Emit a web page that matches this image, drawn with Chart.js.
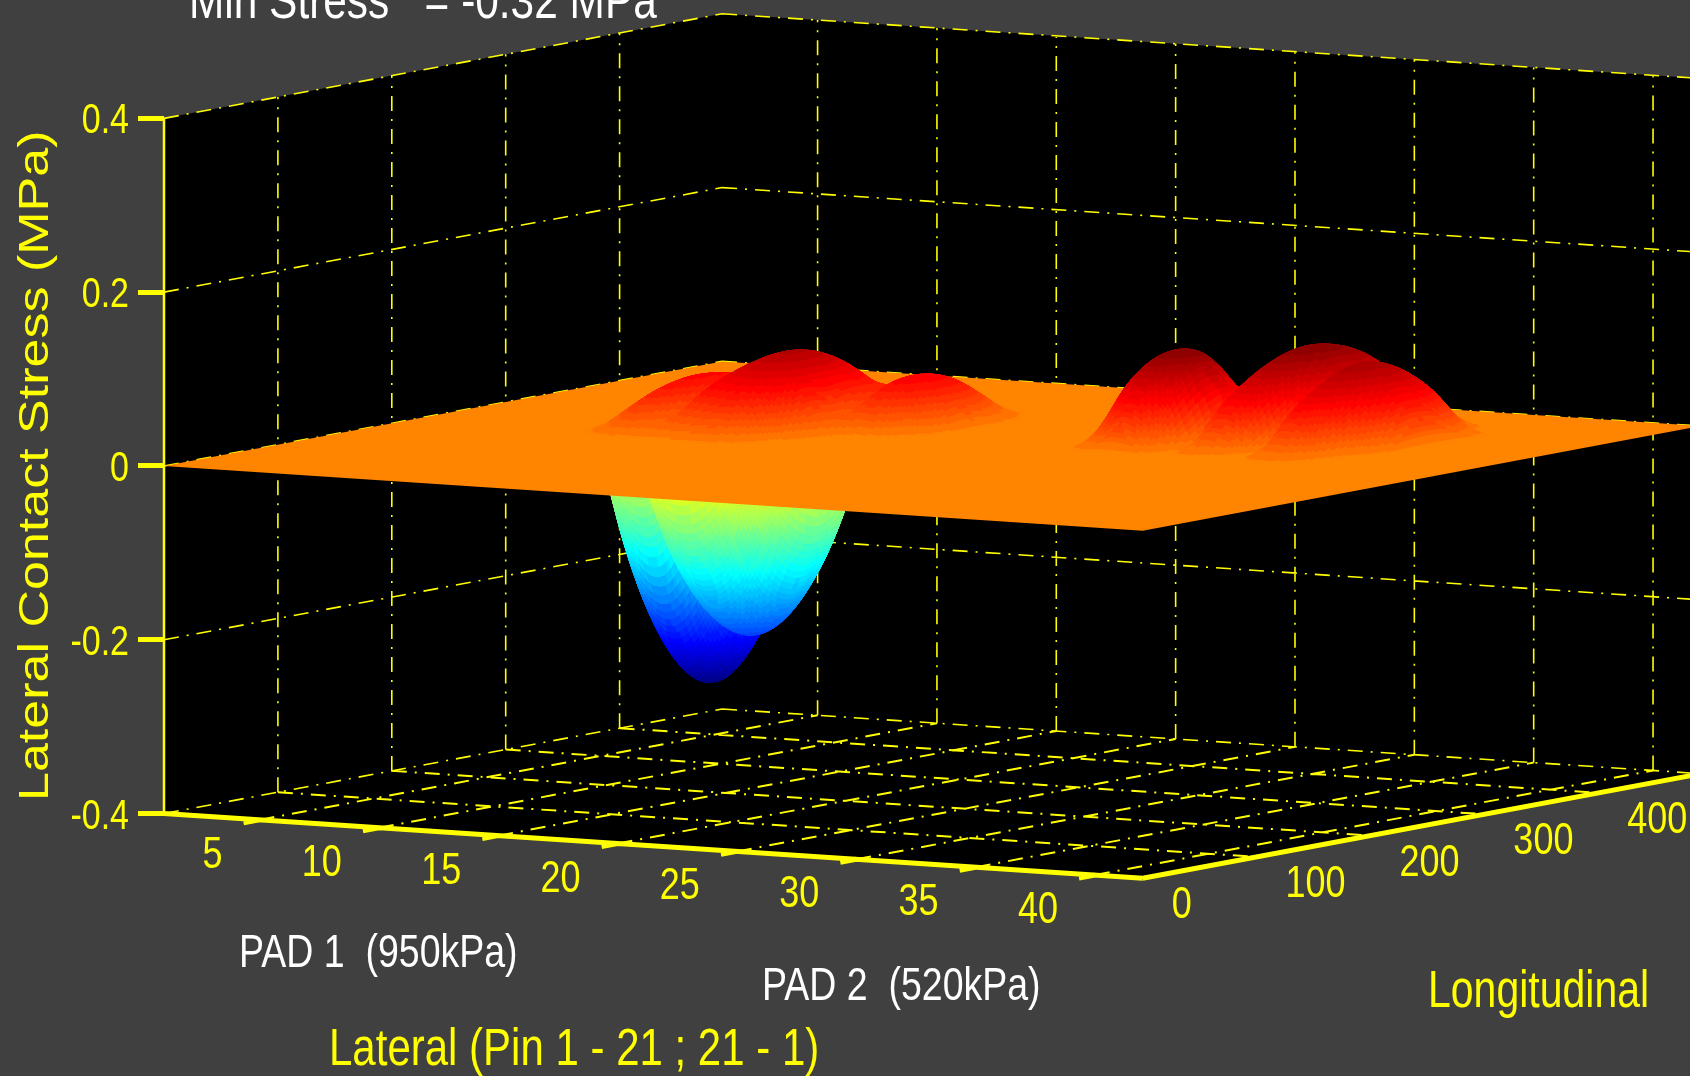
<!DOCTYPE html>
<html>
<head>
<meta charset="utf-8">
<title>Lateral contact stress</title>
<script src="https://cdn.jsdelivr.net/npm/chart.js@4/dist/chart.umd.min.js"></script>
<style>
  html, body { margin: 0; background: #404040; overflow: hidden; }
  canvas { display: block; }
</style>
</head>
<body>
<canvas id="stressChart" width="1690" height="1076"></canvas>
<script>
// axis ticks
const stressTicks = [-0.4, -0.2, 0, 0.2, 0.4];
const lateralTicks = [5, 10, 15, 20, 25, 30, 35, 40];
const longitudinalTicks = [0, 100, 200, 300, 400];
const lateralRange = [1, 42];
const longitudinalRange = [0, 490];
const colorRange = [-0.32, 0.107];

// pad 2 bumps, one row per longitudinal station
const pad2Pins = [25, 26, 27, 28, 29, 30, 31, 32, 33, 34, 35, 36, 37];
const pad2Stations = [260, 280, 300, 320, 340, 360, 380, 400, 420, 440, 460];
const pad2Stress = [
  [0, 0, 0, 0, 0, 0, 0, 0, 0, 0, 0, 0, 0],
  [0, 0, 0.026, 0.047, 0.03, 0.002, 0.012, 0.008, 0, 0.015, 0.012, 0, 0],
  [0, 0.01, 0.066, 0.087, 0.07, 0.01, 0.05, 0.048, 0.006, 0.05, 0.04, 0.004, 0],
  [0, 0.034, 0.082, 0.103, 0.09, 0.03, 0.072, 0.072, 0.03, 0.07, 0.06, 0.02, 0],
  [0, 0.027, 0.075, 0.096, 0.082, 0.045, 0.088, 0.088, 0.055, 0.084, 0.072, 0.038, 0],
  [0, 0, 0.045, 0.066, 0.038, 0.065, 0.098, 0.097, 0.068, 0.09, 0.078, 0.046, 0],
  [0, 0, 0, 0.012, 0.034, 0.079, 0.1, 0.098, 0.072, 0.084, 0.072, 0.04, 0],
  [0, 0, 0, 0, 0.03, 0.071, 0.091, 0.09, 0.066, 0.064, 0.052, 0.02, 0],
  [0, 0, 0, 0, 0.013, 0.051, 0.07, 0.07, 0.048, 0.03, 0.018, 0, 0],
  [0, 0, 0, 0, 0, 0.021, 0.039, 0.039, 0.021, 0, 0, 0, 0],
  [0, 0, 0, 0, 0, 0, 0, 0, 0, 0, 0, 0, 0],
];

// pad 1 bumps
const pad1Pins = [7, 8, 9, 10, 11, 12, 13, 14, 15, 16, 17, 18, 19, 20];
const pad1Stations = [200, 220, 240, 260, 280, 300, 320, 340, 360, 380, 400];
const pad1Stress = [
  [0, 0, 0, 0, 0, 0, 0, 0, 0, 0, 0, 0, 0, 0],
  [0, 0, 0.006, 0.02, 0.012, 0.018, 0.023, 0.026, 0.014, 0, 0, 0, 0, 0],
  [0, 0, 0.022, 0.037, 0.018, 0.043, 0.052, 0.056, 0.043, 0.012, 0, 0, 0, 0],
  [0, 0.008, 0.033, 0.047, 0.03, 0.057, 0.071, 0.074, 0.062, 0.02, 0.006, 0.001, 0, 0],
  [0, 0.012, 0.038, 0.052, 0.04, 0.062, 0.08, 0.083, 0.06, 0.02, 0.03, 0.027, 0.008, 0],
  [0, 0.011, 0.035, 0.05, 0.045, 0.06, 0.078, 0.081, 0.06, 0.03, 0.048, 0.044, 0.024, 0],
  [0, 0.002, 0.027, 0.042, 0.042, 0.05, 0.065, 0.068, 0.05, 0.038, 0.054, 0.049, 0.03, 0],
  [0, 0, 0.013, 0.027, 0.03, 0.032, 0.042, 0.045, 0.033, 0.038, 0.05, 0.045, 0.022, 0],
  [0, 0, 0, 0.007, 0.011, 0.006, 0.008, 0.011, 0.017, 0.025, 0.032, 0.026, 0.007, 0],
  [0, 0, 0, 0, 0, 0, 0, 0, 0, 0.001, 0.006, 0.002, 0, 0],
  [0, 0, 0, 0, 0, 0, 0, 0, 0, 0, 0, 0, 0, 0],
];

// the trough hanging under pad 1
const troughPins = [4, 5, 6, 7, 8, 9, 10, 11, 12, 13, 14, 15, 16, 17];
const troughStations = [180, 200, 220, 240, 260, 280, 300, 320, 340, 360, 380, 400, 420];
const troughStress = [
  [0, 0, 0, 0, 0, 0, 0, 0, 0, 0, 0, 0, 0, 0],
  [0, 0, 0, 0, 0, 0, 0, 0, -0.013, -0.013, 0, 0, 0, 0],
  [0, 0, 0, 0, 0, 0, -0.011, -0.082, -0.116, -0.116, -0.082, -0.011, 0, 0],
  [0, 0, 0, 0, 0, 0, -0.082, -0.153, -0.188, -0.188, -0.153, -0.082, 0, 0],
  [0, 0, 0, 0, 0, -0.017, -0.122, -0.193, -0.227, -0.227, -0.193, -0.122, -0.017, 0],
  [0, 0, -0.044, -0.103, -0.113, -0.074, -0.13, -0.201, -0.236, -0.236, -0.201, -0.13, -0.024, 0],
  [0, -0.049, -0.158, -0.217, -0.227, -0.188, -0.12, -0.176, -0.212, -0.212, -0.176, -0.106, 0, 0],
  [0, -0.117, -0.226, -0.285, -0.295, -0.256, -0.185, -0.121, -0.157, -0.157, -0.121, -0.05, 0, 0],
  [0, -0.14, -0.249, -0.308, -0.318, -0.278, -0.205, -0.08, -0.07, -0.07, -0.034, 0, 0, 0],
  [0, -0.117, -0.226, -0.285, -0.295, -0.256, -0.185, -0.06, 0, 0, 0, 0, 0, 0],
  [0, -0.049, -0.158, -0.217, -0.227, -0.188, -0.12, -0.01, 0, 0, 0, 0, 0, 0],
  [0, 0, -0.044, -0.103, -0.113, -0.074, 0, 0, 0, 0, 0, 0, 0, 0],
  [0, 0, 0, 0, 0, 0, 0, 0, 0, 0, 0, 0, 0, 0],
];

const YELLOW = "#ffff00";
const COLOR_STEPS = 63;
const SUBDIV = 10;

// the view is a plain axonometric one: x in screen units, y in MPa
const LAT_X = 23.87;
const LON_X = 1.139;
const LAT_Y = -0.001815;
const LON_Y = 0.0002456;

function project(lat, lon, stress) {
  return {
    x: (lat - lateralRange[0]) * LAT_X + lon * LON_X,
    y: stress + (lat - lateralRange[0]) * LAT_Y + lon * LON_Y,
  };
}

function jet(value) {
  let t = (value - colorRange[0]) / (colorRange[1] - colorRange[0]);
  t = Math.round(Math.min(1, Math.max(0, t)) * COLOR_STEPS) / COLOR_STEPS;
  const c = (v) => Math.round(255 * Math.min(1, Math.max(0, 1.5 - Math.abs(4 * t - v))));
  return `rgb(${c(3)},${c(2)},${c(1)})`;
}

function segments(list) {
  const out = [];
  list.forEach(([a, b]) => out.push(a, b, { x: null, y: null }));
  return out;
}

const [latMin, latMax] = lateralRange;
const [lonMin, lonMax] = longitudinalRange;
const zMin = stressTicks[0];
const zMax = stressTicks[stressTicks.length - 1];

const wallLines = [];
longitudinalTicks.slice(1).forEach((lon) => wallLines.push([project(latMin, lon, zMin), project(latMin, lon, zMax)]));
lateralTicks.forEach((lat) => wallLines.push([project(lat, lonMax, zMin), project(lat, lonMax, zMax)]));
stressTicks.forEach((z) => {
  wallLines.push([project(latMin, lonMin, z), project(latMin, lonMax, z)]);
  wallLines.push([project(latMin, lonMax, z), project(latMax, lonMax, z)]);
});

const floorLines = [];
lateralTicks.forEach((lat) => floorLines.push([project(lat, lonMin, zMin), project(lat, lonMax, zMin)]));
longitudinalTicks.slice(1).forEach((lon) => floorLines.push([project(latMin, lon, zMin), project(latMax, lon, zMin)]));

const floorAxes = [
  [project(latMin, lonMin, zMin), project(latMax, lonMin, zMin)],
  [project(latMax, lonMin, zMin), project(latMax, lonMax, zMin)],
];
lateralTicks.forEach((lat) => floorAxes.push([project(lat, lonMin, zMin), project(lat, -14, zMin)]));

// catmull-rom along both directions, only to shade the surface smoothly
function cubic(p0, p1, p2, p3, t) {
  return 0.5 * (2 * p1 + (p2 - p0) * t + (2 * p0 - 5 * p1 + 4 * p2 - p3) * t * t + (3 * p1 - p0 - 3 * p2 + p3) * t * t * t);
}

function sample(rows, r, c, u, v) {
  const at = (i, j) => {
    const ri = Math.max(0, Math.min(rows.length - 1, i));
    const cj = Math.max(0, Math.min(rows[0].length - 1, j));
    return rows[ri][cj];
  };
  const col = [];
  for (let i = -1; i <= 2; i++) {
    col.push(cubic(at(r + i, c - 1), at(r + i, c), at(r + i, c + 1), at(r + i, c + 2), u));
  }
  return cubic(col[0], col[1], col[2], col[3], v);
}

// far cells first, so nearer ones paint over them
function drawPatch(chart, pins, stations, rows, sign) {
  const { ctx, scales } = chart;
  const px = (lat, lon, z) => {
    const p = project(lat, lon, z);
    return [scales.x.getPixelForValue(p.x), scales.y.getPixelForValue(p.y)];
  };
  const clampZ = (z) => (sign > 0 ? Math.max(0, z) : Math.min(0, z));
  ctx.save();
  ctx.lineWidth = 1;
  for (let r = stations.length - 2; r >= 0; r--) {
    for (let k = SUBDIV - 1; k >= 0; k--) {
      for (let c = 0; c < pins.length - 1; c++) {
        for (let m = 0; m < SUBDIV; m++) {
          const lonA = stations[r] + ((stations[r + 1] - stations[r]) * k) / SUBDIV;
          const lonB = stations[r] + ((stations[r + 1] - stations[r]) * (k + 1)) / SUBDIV;
          const latA = pins[c] + ((pins[c + 1] - pins[c]) * m) / SUBDIV;
          const latB = pins[c] + ((pins[c + 1] - pins[c]) * (m + 1)) / SUBDIV;
          const z00 = clampZ(sample(rows, r, c, m / SUBDIV, k / SUBDIV));
          const z10 = clampZ(sample(rows, r, c, (m + 1) / SUBDIV, k / SUBDIV));
          const z01 = clampZ(sample(rows, r, c, m / SUBDIV, (k + 1) / SUBDIV));
          const z11 = clampZ(sample(rows, r, c, (m + 1) / SUBDIV, (k + 1) / SUBDIV));
          const mean = (z00 + z10 + z01 + z11) / 4;
          if (Math.abs(mean) < 0.0004) continue;
          const color = jet(mean);
          ctx.fillStyle = color;
          ctx.strokeStyle = color;
          ctx.beginPath();
          ctx.moveTo(...px(latA, lonA, z00));
          ctx.lineTo(...px(latB, lonA, z10));
          ctx.lineTo(...px(latB, lonB, z11));
          ctx.lineTo(...px(latA, lonB, z01));
          ctx.closePath();
          ctx.fill();
          ctx.stroke();
        }
      }
    }
  }
  ctx.restore();
}

function fillProjected(chart, corners, color) {
  const { ctx, scales } = chart;
  ctx.save();
  ctx.fillStyle = color;
  ctx.beginPath();
  corners.forEach((p, i) => {
    const x = scales.x.getPixelForValue(p.x);
    const y = scales.y.getPixelForValue(p.y);
    if (i === 0) ctx.moveTo(x, y);
    else ctx.lineTo(x, y);
  });
  ctx.closePath();
  ctx.fill();
  ctx.restore();
}

// len = size along the text, high = size across it; the source picture is stretched
function drawLabel(ctx, text, x, y, len, high, color, align, turned) {
  ctx.save();
  ctx.translate(x, y);
  if (turned) ctx.rotate(-Math.PI / 2);
  ctx.scale(len / high, 1);
  ctx.font = `${high}px "Liberation Sans", Arial, sans-serif`;
  ctx.fillStyle = color;
  ctx.textAlign = align;
  ctx.textBaseline = "alphabetic";
  ctx.fillText(text, 0, 0);
  ctx.restore();
}

const surfacePlugin = {
  id: "surface",
  beforeDatasetsDraw(chart) {
    fillProjected(chart, [
      project(latMin, lonMin, zMax),
      project(latMin, lonMax, zMax),
      project(latMax, lonMax, zMax),
      project(latMax, lonMax, zMin),
      project(latMax, lonMin, zMin),
      project(latMin, lonMin, zMin),
    ], "#000000");
  },
  afterDatasetDraw(chart, args) {
    if (chart.data.datasets[args.index].label !== "Surface") return;
    drawPatch(chart, troughPins, troughStations, troughStress, -1);
    fillProjected(chart, [
      project(latMin, lonMin, 0),
      project(latMin, lonMax, 0),
      project(latMax, lonMax, 0),
      project(latMax, lonMin, 0),
    ], jet(0));
    drawPatch(chart, pad1Pins, pad1Stations, pad1Stress, 1);
    drawPatch(chart, pad2Pins, pad2Stations, pad2Stress, 1);
  },
  afterDraw(chart) {
    const { ctx, scales } = chart;
    const xPx = (p) => scales.x.getPixelForValue(p.x);
    const yPx = (p) => scales.y.getPixelForValue(p.y);
    stressTicks.forEach((z) => {
      const label = z === 0 ? "0" : z.toFixed(1);
      drawLabel(ctx, label, 129, scales.y.getPixelForValue(z) + 15, 34, 42, YELLOW, "right");
    });
    lateralTicks.forEach((lat) => {
      const p = project(lat, lonMin, zMin);
      drawLabel(ctx, String(lat), xPx(p) - 37, yPx(p) + 48, 36, 44, YELLOW, "right");
    });
    longitudinalTicks.forEach((lon) => {
      const p = project(latMax, lon, zMin);
      drawLabel(ctx, String(lon), xPx(p) + 29, yPx(p) + 40, 36, 44, YELLOW, "left");
    });
    drawLabel(ctx, "Min Stress   = -0.32 MPa", 189, 18, 42.4, 51, "#ffffff", "left");
    drawLabel(ctx, "PAD 1  (950kPa)", 239, 967, 37.5, 46, "#ffffff", "left");
    drawLabel(ctx, "PAD 2  (520kPa)", 762, 1000, 37.5, 46, "#ffffff", "left");
    drawLabel(ctx, "Lateral (Pin 1 - 21 ; 21 - 1)", 329, 1065, 42, 51, YELLOW, "left");
    drawLabel(ctx, "Longitudinal", 1428, 1007, 41, 51, YELLOW, "left");
    drawLabel(ctx, "Lateral Contact Stress (MPa)", 48, 801, 52, 42, YELLOW, "left", true);
  },
};

new Chart(document.getElementById("stressChart").getContext("2d"), {
  type: "scatter",
  plugins: [surfacePlugin],
  data: {
    datasets: [
      {
        label: "Walls",
        data: segments(wallLines),
        showLine: true,
        pointRadius: 0,
        borderColor: YELLOW,
        borderWidth: 1.6,
        borderDash: [15, 8, 2, 8],
        order: 4,
        clip: false,
      },
      {
        label: "Floor",
        data: segments(floorLines),
        showLine: true,
        pointRadius: 0,
        borderColor: YELLOW,
        borderWidth: 2,
        borderDash: [15, 8, 2, 8],
        order: 3,
        clip: false,
      },
      {
        label: "Surface",
        data: [project(latMin, lonMin, 0), project(latMin, lonMax, 0), project(latMax, lonMax, 0), project(latMax, lonMin, 0)],
        pointRadius: 0,
        order: 2,
      },
      {
        label: "Axes",
        data: segments(floorAxes),
        showLine: true,
        pointRadius: 0,
        borderColor: YELLOW,
        borderWidth: 5,
        order: 1,
        clip: false,
      },
      {
        label: "Stress axis",
        data: segments([[project(latMin, lonMin, zMin), project(latMin, lonMin, zMax)]]),
        showLine: true,
        pointRadius: 0,
        borderColor: YELLOW,
        borderWidth: 2.5,
        order: 0,
        clip: false,
      },
    ],
  },
  options: {
    responsive: false,
    animation: false,
    devicePixelRatio: 1,
    layout: { padding: 0 },
    plugins: {
      legend: { display: false },
      tooltip: { enabled: false },
    },
    scales: {
      x: { type: "linear", display: false, min: 0, max: 1526 },
      y: {
        type: "linear",
        min: -0.702,
        max: 0.5362,
        afterFit: (scale) => {
          scale.width = 164;
          scale.paddingTop = 0;
          scale.paddingBottom = 0;
        },
        afterBuildTicks: (scale) => {
          scale.ticks = stressTicks.map((value) => ({ value }));
        },
        border: { display: false },
        grid: {
          drawOnChartArea: false,
          drawTicks: true,
          tickLength: 26,
          tickWidth: 5,
          tickColor: YELLOW,
        },
        ticks: { display: false },
      },
    },
  },
});
</script>
</body>
</html>
